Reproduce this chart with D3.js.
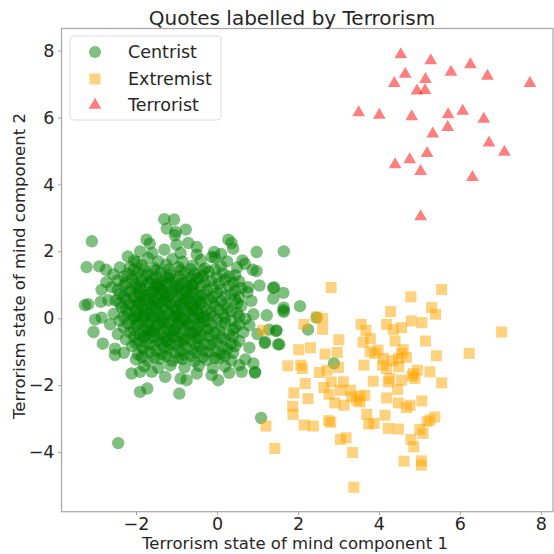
<!DOCTYPE html>
<html><head><meta charset="utf-8">
<script src="https://cdn.jsdelivr.net/npm/d3@7"></script>
<style>body{margin:0;background:#fff}svg{display:block}text{font-family:"DejaVu Sans",sans-serif;fill:#262626}</style>
</head><body><svg id="c" width="554" height="554"></svg>
<script>
const title = "Quotes labelled by Terrorism";
const xLabel = "Terrorism state of mind component 1";
const yLabel = "Terrorism state of mind component 2";
const categories = ["Centrist", "Extremist", "Terrorist"];
const xTicks = [-2, 0, 2, 4, 6, 8];
const yTicks = [-4, -2, 0, 2, 4, 6, 8];

const terrorist = [[4.54,7.88],[5.28,7.70],[6.26,7.58],[5.78,7.36],[4.65,7.30],[6.68,7.24],[4.38,7.02],[5.15,7.14],[7.73,7.02],[4.94,6.80],[5.14,6.81],[3.50,6.15],[4.01,6.07],[4.81,6.03],[5.71,6.09],[6.07,6.19],[6.59,5.95],[5.70,5.71],[5.33,5.51],[6.72,5.24],[7.10,4.97],[5.19,4.93],[4.76,4.74],[4.40,4.59],[5.03,4.39],[6.31,4.21],[5.03,3.04]];

const extremist = [[2.82,0.92],[5.55,0.86],[4.79,0.64],[5.30,0.32],[5.40,0.12],[4.29,0.20],[7.03,-0.41],[2.15,-0.18],[2.61,-0.01],[2.61,-0.33],[3.56,-0.18],[4.19,-0.18],[4.56,-0.28],[4.80,-0.08],[5.06,-0.13],[3.68,-0.36],[3.79,-0.61],[4.35,-0.34],[3.01,-0.64],[5.15,-0.68],[2.02,-0.94],[2.31,-0.88],[3.61,-0.71],[4.40,-0.68],[2.67,-1.07],[2.97,-1.02],[3.98,-0.95],[3.78,-1.00],[4.60,-0.94],[4.68,-1.17],[4.48,-1.20],[5.42,-1.12],[6.23,-1.05],[1.75,-1.42],[2.07,-1.40],[2.11,-1.50],[3.63,-1.40],[4.09,-1.40],[4.19,-1.50],[4.33,-1.27],[4.49,-1.45],[2.53,-1.62],[2.72,-1.55],[3.00,-1.47],[4.95,-1.55],[5.26,-1.60],[4.82,-1.73],[4.89,-1.80],[2.18,-1.95],[3.12,-1.90],[2.82,-1.90],[3.86,-1.88],[4.27,-1.80],[4.56,-1.85],[5.55,-1.93],[2.64,-2.07],[3.30,-2.15],[1.90,-2.23],[4.46,-2.13],[4.23,-1.90],[2.77,-2.27],[3.05,-2.15],[3.33,-2.35],[3.53,-2.33],[3.65,-2.30],[2.25,-2.40],[4.19,-2.38],[2.91,-2.53],[3.14,-2.60],[3.53,-2.50],[4.48,-2.53],[4.77,-2.60],[5.06,-2.47],[4.68,-2.67],[1.87,-2.63],[1.88,-2.87],[3.70,-2.87],[4.15,-2.90],[5.38,-2.95],[2.76,-3.06],[2.81,-3.11],[5.19,-3.09],[1.21,-3.22],[2.15,-3.19],[2.38,-3.22],[3.75,-3.16],[3.88,-3.14],[4.23,-3.29],[4.48,-3.31],[5.01,-3.32],[5.09,-3.44],[3.05,-3.62],[3.19,-3.57],[4.79,-3.62],[4.86,-3.84],[1.43,-3.89],[3.35,-4.01],[4.62,-4.27],[5.05,-4.26],[5.05,-4.39],[3.38,-5.05],[1.13,-0.36],[2.46,0.04],[4.11,-1.20],[3.90,-1.05],[4.56,-1.05],[4.85,-1.65],[3.45,-2.45],[5.26,-3.04]];

const centrist = [
[-1.30,2.96],[-1.06,2.95],[-1.24,2.68],[-1.02,2.58],[-0.77,2.65],[-1.04,2.48],[-3.09,2.30],[-1.74,2.35],[-1.66,2.23],[-0.71,2.25],[-0.50,2.13],[0.28,2.35],[0.36,2.25],[0.40,2.08],[-0.07,1.98],[-0.13,1.83],[0.98,1.98],[1.65,2.00],[0.63,1.73],[0.69,1.63],[0.88,1.45],[0.98,1.41],[-3.22,1.53],[-2.91,1.55],[-2.74,1.45],[-2.56,1.31],[-1.98,1.68],[-2.15,1.53],[-2.73,1.08],[-2.85,0.85],[-3.26,0.39],[-3.18,0.42],[-2.87,0.49],[-2.68,0.54],[-3.01,-0.04],[-2.85,0.02],[-3.05,-0.41],[-2.64,-0.18],[-2.82,-0.76],[-2.52,-0.91],[-2.52,-1.10],[-2.11,-1.65],[-1.90,-1.60],[-1.90,-2.20],[-1.72,-2.10],[-0.93,-2.25],[-1.61,-1.60],[-1.28,-1.75],[-0.90,-1.80],[-0.75,-1.85],[-0.50,-1.65],[-0.13,-1.70],[0.03,-1.85],[0.30,-1.63],[0.61,-1.60],[0.94,-1.63],[0.90,-1.35],[1.51,-0.78],[1.18,-0.74],[1.47,-0.36],[1.29,-0.34],[1.23,0.09],[1.65,0.32],[1.65,0.19],[2.05,0.36],[2.25,-0.34],[2.46,0.02],[1.39,0.91],[1.64,0.76],[1.39,0.59],[1.05,0.98],[0.77,0.93],[2.89,-1.35],[1.09,-2.98],[-2.44,-3.73],[1.41,0.92],[1.64,0.24],[1.54,-0.78],[1.19,-0.71],[0.94,-1.60],[1.46,-0.38],
[-2.05,1.72],[-1.7,1.8],[-1.45,1.7],[-1.1,1.77],[-0.85,1.69],[-0.4,1.74],[-0.05,1.81],[0.25,1.7],
[-2.4,1.52],[-1.85,1.58],[-1.55,1.5],[-1.25,1.6],[-0.95,1.53],[-0.6,1.57],[-0.3,1.49],[0.1,1.56],[0.5,1.52],
[-2.2,1.33],[-1.95,1.38],[-1.7,1.31],[-1.4,1.37],[-1.15,1.3],[-0.8,1.36],[-0.55,1.32],[-0.2,1.39],[0.15,1.34],[0.45,1.29],
[-2.45,1.13],[-2.1,1.18],[-1.85,1.12],[-1.6,1.17],[-1.35,1.1],[-1.05,1.16],[-0.75,1.12],[-0.45,1.19],[-0.15,1.11],[0.2,1.15],[0.55,1.1],
[-2.6,0.93],[-2.3,0.98],[-2.0,0.91],[-1.75,0.97],[-1.5,0.92],[-1.25,0.99],[-0.95,0.94],[-0.7,0.9],[-0.4,0.96],[-0.1,0.92],[0.3,0.97],[0.6,0.9],
[-2.4,0.72],[-2.15,0.78],[-1.9,0.73],[-1.65,0.77],[-1.4,0.7],[-1.1,0.76],[-0.85,0.73],[-0.6,0.79],[-0.3,0.71],[0.0,0.75],[0.35,0.72],[0.75,0.78],
[-2.5,0.53],[-2.25,0.58],[-2.0,0.51],[-1.8,0.57],[-1.55,0.52],[-1.3,0.56],[-1.0,0.5],[-0.75,0.58],[-0.5,0.53],[-0.2,0.57],[0.1,0.51],[0.45,0.56],[0.85,0.52],
[-2.35,0.33],[-2.1,0.38],[-1.85,0.31],[-1.6,0.37],[-1.35,0.32],[-1.1,0.36],[-0.85,0.3],[-0.6,0.38],[-0.35,0.33],[-0.05,0.36],[0.25,0.31],[0.6,0.37],
[-2.55,0.13],[-2.2,0.18],[-1.95,0.11],[-1.7,0.17],[-1.45,0.12],[-1.2,0.16],[-0.95,0.1],[-0.7,0.18],[-0.45,0.13],[-0.15,0.17],[0.15,0.11],[0.5,0.16],[0.9,0.12],
[-2.4,-0.07],[-2.1,-0.02],[-1.85,-0.08],[-1.6,-0.03],[-1.35,-0.09],[-1.1,-0.04],[-0.8,-0.06],[-0.55,-0.01],[-0.3,-0.08],[0.0,-0.03],[0.35,-0.07],[0.7,-0.02],
[-2.3,-0.27],[-2.0,-0.22],[-1.75,-0.28],[-1.5,-0.23],[-1.25,-0.29],[-1.0,-0.24],[-0.75,-0.2],[-0.45,-0.26],[-0.2,-0.3],[0.1,-0.23],[0.45,-0.27],[0.8,-0.21],
[-2.45,-0.47],[-2.15,-0.42],[-1.9,-0.48],[-1.65,-0.43],[-1.4,-0.49],[-1.15,-0.41],[-0.9,-0.46],[-0.6,-0.43],[-0.35,-0.5],[-0.05,-0.44],[0.3,-0.48],[0.65,-0.42],[1.0,-0.47],
[-2.25,-0.63],[-1.95,-0.68],[-1.7,-0.61],[-1.45,-0.67],[-1.2,-0.62],[-0.95,-0.69],[-0.65,-0.64],[-0.4,-0.6],[-0.1,-0.66],[0.2,-0.62],[0.55,-0.68],
[-2.1,-0.83],[-1.85,-0.88],[-1.55,-0.81],[-1.3,-0.87],[-1.0,-0.82],[-0.75,-0.89],[-0.45,-0.84],[-0.15,-0.8],[0.15,-0.86],[0.45,-0.83],[0.8,-0.88],
[-2.3,-1.03],[-1.95,-1.08],[-1.65,-1.01],[-1.35,-1.07],[-1.05,-1.02],[-0.8,-1.09],[-0.5,-1.04],[-0.2,-1.0],[0.1,-1.06],[0.4,-1.03],
[-2.0,-1.23],[-1.7,-1.28],[-1.4,-1.21],[-1.1,-1.27],[-0.85,-1.22],[-0.55,-1.29],[-0.25,-1.24],[0.05,-1.2],[0.35,-1.26],[0.7,-1.23],
[-1.8,-1.43],[-1.45,-1.48],[-1.15,-1.41],[-0.8,-1.47],[-0.45,-1.42],[-0.1,-1.49],[0.2,-1.44],[0.55,-1.4],
[-1.8,0.25],[-1.5,0.45],[-1.2,0.65],[-0.9,0.45],[-0.6,0.25],[-1.6,0.05],[-1.3,-0.15],[-1.0,0.05],[-0.7,-0.15],[-1.4,0.85],[-1.0,0.85],[-0.5,0.65],[-1.9,0.65],[-1.7,-0.35],[-1.1,-0.55],[-0.5,-0.35],[-0.8,1.05],[-1.5,1.05],[-2.0,0.05],[-0.3,0.05],
[-1.6,1.95],[-1.3,2.05],[-0.9,1.95],[-0.5,1.9],[0.1,1.92],[-2.2,1.85],[-1.9,2.0],[-1.0,2.2],
[-2.05,1.45],[-1.8,1.47],[-1.5,1.44],[-1.2,1.46],[-0.9,1.43],[-0.65,1.47],[-0.35,1.42],[-0.05,1.46],
[-2.3,1.25],[-2.0,1.23],[-1.75,1.27],[-1.5,1.22],[-1.25,1.26],[-0.95,1.24],[-0.65,1.21],[-0.35,1.27],[0.0,1.23],[0.3,1.26],
[-2.25,1.05],[-2.0,1.03],[-1.7,1.07],[-1.45,1.02],[-1.2,1.06],[-0.9,1.04],[-0.6,1.01],[-0.3,1.07],[0.05,1.03],[0.4,1.06],
[-2.45,0.85],[-2.15,0.83],[-1.9,0.87],[-1.6,0.82],[-1.35,0.86],[-1.1,0.84],[-0.8,0.81],[-0.55,0.87],[-0.25,0.83],[0.1,0.86],[0.45,0.82],
[-2.3,0.65],[-2.05,0.63],[-1.75,0.67],[-1.5,0.62],[-1.25,0.66],[-0.95,0.64],[-0.7,0.61],[-0.4,0.67],[-0.1,0.63],[0.2,0.66],[0.55,0.62],
[-2.4,0.45],[-2.15,0.43],[-1.9,0.47],[-1.65,0.42],[-1.4,0.46],[-1.15,0.44],[-0.9,0.41],[-0.65,0.47],[-0.4,0.43],[-0.1,0.46],[0.2,0.42],[0.5,0.45],
[-2.25,0.25],[-2.0,0.23],[-1.75,0.27],[-1.5,0.22],[-1.25,0.26],[-1.0,0.24],[-0.75,0.21],[-0.5,0.27],[-0.25,0.23],[0.05,0.26],[0.35,0.22],
[-2.3,0.05],[-2.05,0.03],[-1.8,0.07],[-1.55,0.02],[-1.3,0.06],[-1.05,0.04],[-0.85,0.01],[-0.6,0.07],[-0.35,0.03],[-0.1,0.06],[0.2,0.02],[0.55,0.05],
[-2.2,-0.15],[-1.95,-0.17],[-1.7,-0.13],[-1.45,-0.18],[-1.2,-0.14],[-0.95,-0.16],[-0.7,-0.19],[-0.4,-0.13],[-0.15,-0.17],[0.2,-0.14],[0.55,-0.18],
[-2.05,-0.35],[-1.8,-0.37],[-1.55,-0.33],[-1.3,-0.38],[-1.05,-0.34],[-0.8,-0.36],[-0.55,-0.39],[-0.25,-0.33],[0.05,-0.37],[0.4,-0.34],
[-2.05,-0.55],[-1.8,-0.57],[-1.55,-0.53],[-1.3,-0.58],[-1.05,-0.54],[-0.8,-0.56],[-0.5,-0.59],[-0.2,-0.53],[0.1,-0.57],[0.4,-0.54],
[-2.0,-0.75],[-1.7,-0.77],[-1.4,-0.73],[-1.15,-0.78],[-0.85,-0.74],[-0.55,-0.76],[-0.3,-0.79],[0.0,-0.73],[0.35,-0.77],
[-1.8,-0.95],[-1.5,-0.97],[-1.2,-0.93],[-0.9,-0.98],[-0.6,-0.94],[-0.35,-0.96],[-0.05,-0.99],[0.25,-0.93],
[-1.85,-1.15],[-1.55,-1.17],[-1.25,-1.13],[-0.95,-1.18],[-0.65,-1.14],[-0.35,-1.16],[-0.05,-1.19],[0.2,-1.13],
[-1.9,0.95],[-1.45,0.95],[-1.05,0.97],[-0.6,0.98],[-1.7,0.55],[-1.25,0.5],[-0.8,0.55],[-0.4,0.5],[-1.95,0.4],[-1.5,0.3],[-1.05,0.25],[-0.6,0.3],[-1.8,0.0],[-1.35,0.02],[-0.9,-0.05],[-0.45,0.0],[-1.55,-0.4],[-1.05,-0.35],[-0.65,-0.45],[-1.8,-0.55],[-1.25,-0.7],[-0.8,-0.65],[-1.3,0.75],[-0.75,0.75],[-1.6,0.75],[-1.2,1.2],[-0.5,1.2]
];

const colors = {Centrist:"rgba(0,128,0,0.5)", Extremist:"rgba(255,165,0,0.5)", Terrorist:"rgba(255,0,0,0.5)"};

const svg = d3.select("#c");
const L = 61.5, R = 553, T = 28.5, B = 511.7;
const x = d3.scaleLinear().domain([-3.84, 8.3]).range([L, R]);
const y = d3.scaleLinear().domain([-5.78, 8.66]).range([B, T]);

svg.append("clipPath").attr("id","clip").append("rect").attr("x",L).attr("y",T).attr("width",R-L).attr("height",B-T);
const plot = svg.append("g").attr("clip-path","url(#clip)");

plot.append("g").selectAll("circle").data(centrist).join("circle")
  .attr("cx", d => x(d[0])).attr("cy", d => y(d[1])).attr("r", 6.2)
  .attr("fill", colors.Centrist);
const sq = 11;
plot.append("g").selectAll("rect").data(extremist).join("rect")
  .attr("x", d => x(d[0]) - sq/2).attr("y", d => y(d[1]) - sq/2).attr("width", sq).attr("height", sq)
  .attr("fill", colors.Extremist);
const tri = d3.symbol().type(d3.symbolTriangle).size(70);
plot.append("g").selectAll("path").data(terrorist).join("path")
  .attr("d", tri).attr("transform", d => `translate(${x(d[0])},${y(d[1])})`)
  .attr("fill", colors.Terrorist);

// axes
const fs = 17.5, lfs = 16.5;
const xa = svg.append("g").attr("transform", `translate(0,${B})`)
  .call(d3.axisBottom(x).tickValues(xTicks).tickSize(3.5).tickPadding(3.5));
const ya = svg.append("g").attr("transform", `translate(${L},0)`)
  .call(d3.axisLeft(y).tickValues(yTicks).tickSize(3.5).tickPadding(3.5));
[xa, ya].forEach(a => {
  a.select(".domain").remove();
  a.selectAll(".tick line").attr("stroke", "#a0a0a0").attr("stroke-width", 1);
  a.selectAll(".tick text").attr("font-size", fs).attr("font-family", "DejaVu Sans").attr("fill", "#262626");
});
xa.selectAll(".tick text").attr("dy", "0.62em");
svg.append("rect").attr("x", L).attr("y", T).attr("width", R - L).attr("height", B - T)
  .attr("fill", "none").attr("stroke", "#a8a8a8").attr("stroke-width", 1.25);

svg.append("text").attr("x", 292).attr("y", 25).attr("text-anchor", "middle").attr("font-size", 20).text(title);
svg.append("text").attr("x", 295).attr("y", 549).attr("text-anchor", "middle").attr("font-size", lfs).text(xLabel);
svg.append("text").attr("transform", "translate(25,266) rotate(-90)").attr("text-anchor", "middle").attr("font-size", lfs).text(yLabel);

// legend
const lg = svg.append("g");
lg.append("rect").attr("x", 70).attr("y", 36).attr("width", 151).attr("height", 84).attr("rx", 4)
  .attr("fill", "rgba(255,255,255,0.8)").attr("stroke", "#dcdcdc").attr("stroke-width", 1);
const rowsY = [52, 79, 105];
categories.forEach((c, i) => {
  const cy = rowsY[i];
  if (i === 0) lg.append("circle").attr("cx", 95).attr("cy", cy).attr("r", 6).attr("fill", colors[c]);
  if (i === 1) lg.append("rect").attr("x", 95 - 5.5).attr("y", cy - 5.5).attr("width", 11).attr("height", 11).attr("fill", colors[c]);
  if (i === 2) lg.append("path").attr("d", tri).attr("transform", `translate(95,${cy})`).attr("fill", colors[c]);
  lg.append("text").attr("x", 128).attr("y", cy + 6.3).attr("font-size", fs).text(c);
});
</script></body></html>
